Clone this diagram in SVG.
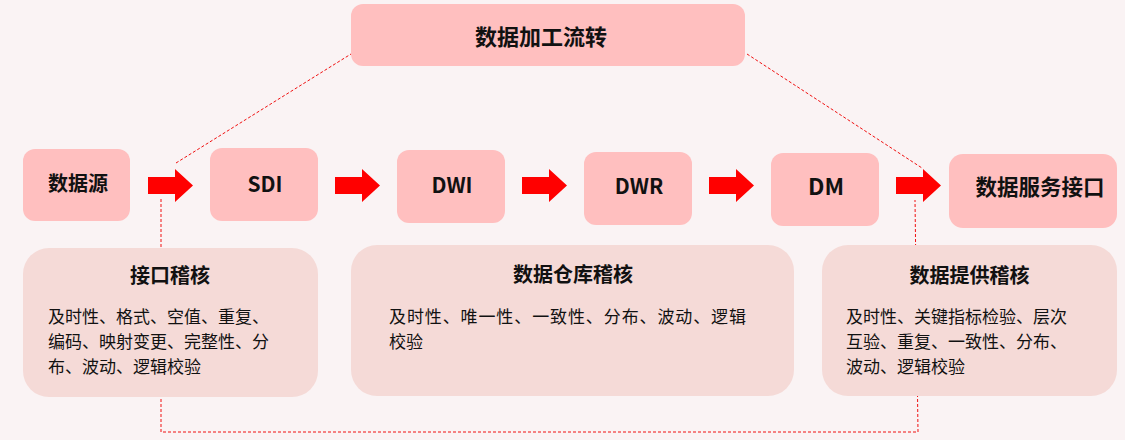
<svg xmlns="http://www.w3.org/2000/svg" width="1125" height="440" viewBox="0 0 1125 440">
<style>
.bg{fill:#FAF3F4}
.n{fill:#FFBFBF}
.a{fill:#F5DAD7}
.t{font-family:"Noto Sans CJK SC","Liberation Sans",sans-serif;font-weight:bold;fill:#111;text-anchor:middle}
.b{font-family:"Noto Sans CJK SC","Liberation Sans",sans-serif;font-size:17px;fill:#111}
.d{fill:none;stroke:#F01010;stroke-width:1;stroke-dasharray:3 2}
.ar{fill:#FF0000}
</style>
<defs>
<polygon id="arrow" points="0,177 27,177 27,169 45,185.5 27,202 27,194 0,194"/>
</defs>
<rect class="bg" x="0" y="0" width="1125" height="440"/>
<g id="connectors">
<line class="d" x1="176" y1="163" x2="351" y2="54"/>
<line class="d" x1="747" y1="54" x2="922" y2="168"/>
<polyline class="d" points="161,199 161,432 918,432 915,200"/>
<use href="#arrow" class="ar" x="148"/>
<use href="#arrow" class="ar" x="335"/>
<use href="#arrow" class="ar" x="522"/>
<use href="#arrow" class="ar" x="709"/>
<use href="#arrow" class="ar" x="896"/>
</g>
<g id="node-flow">
<rect class="n" x="351" y="4" width="394" height="62" rx="12"/>
<text class="t" x="541" y="45" font-size="22">数据加工流转</text>
</g>
<g id="node-source">
<rect class="n" x="23" y="149" width="107" height="72" rx="12"/>
<text class="t" x="78" y="191" font-size="20">数据源</text>
</g>
<g id="node-sdi">
<rect class="n" x="210" y="148" width="108" height="73" rx="12"/>
<text class="t" x="265" y="192" font-size="21">SDI</text>
</g>
<g id="node-dwi">
<rect class="n" x="397" y="150" width="108" height="73" rx="12"/>
<text class="t" x="452" y="193" font-size="21">DWI</text>
</g>
<g id="node-dwr">
<rect class="n" x="584" y="152" width="108" height="73" rx="12"/>
<text class="t" x="639" y="194" font-size="21">DWR</text>
</g>
<g id="node-dm">
<rect class="n" x="771" y="153" width="108" height="73" rx="12"/>
<text class="t" x="826" y="195" font-size="23">DM</text>
</g>
<g id="node-service">
<rect class="n" x="949" y="154" width="168" height="74" rx="14"/>
<text class="t" x="1040" y="195" font-size="21.5">数据服务接口</text>
</g>
<g id="node-audit-interface">
<rect class="a" x="23" y="248" width="295" height="149" rx="26"/>
<text class="t" x="170" y="283" font-size="20">接口稽核</text>
<text class="b" x="48" y="323" textLength="221">及时性、格式、空值、重复、</text>
<text class="b" x="48" y="348" textLength="221">编码、映射变更、完整性、分</text>
<text class="b" x="48" y="373" textLength="153">布、波动、逻辑校验</text>
</g>
<g id="node-audit-warehouse">
<rect class="a" x="351" y="245" width="443" height="151" rx="26"/>
<text class="t" x="573" y="282" font-size="20">数据仓库稽核</text>
<text class="b" x="389" y="323" textLength="357">及时性、唯一性、一致性、分布、波动、逻辑</text>
<text class="b" x="389" y="348" textLength="34">校验</text>
</g>
<g id="node-audit-provide">
<rect class="a" x="822" y="245" width="295" height="151" rx="26"/>
<text class="t" x="969.5" y="283" font-size="20">数据提供稽核</text>
<text class="b" x="846" y="323" textLength="221">及时性、关键指标检验、层次</text>
<text class="b" x="846" y="348" textLength="221">互验、重复、一致性、分布、</text>
<text class="b" x="846" y="373" textLength="119">波动、逻辑校验</text>
</g>
</svg>
